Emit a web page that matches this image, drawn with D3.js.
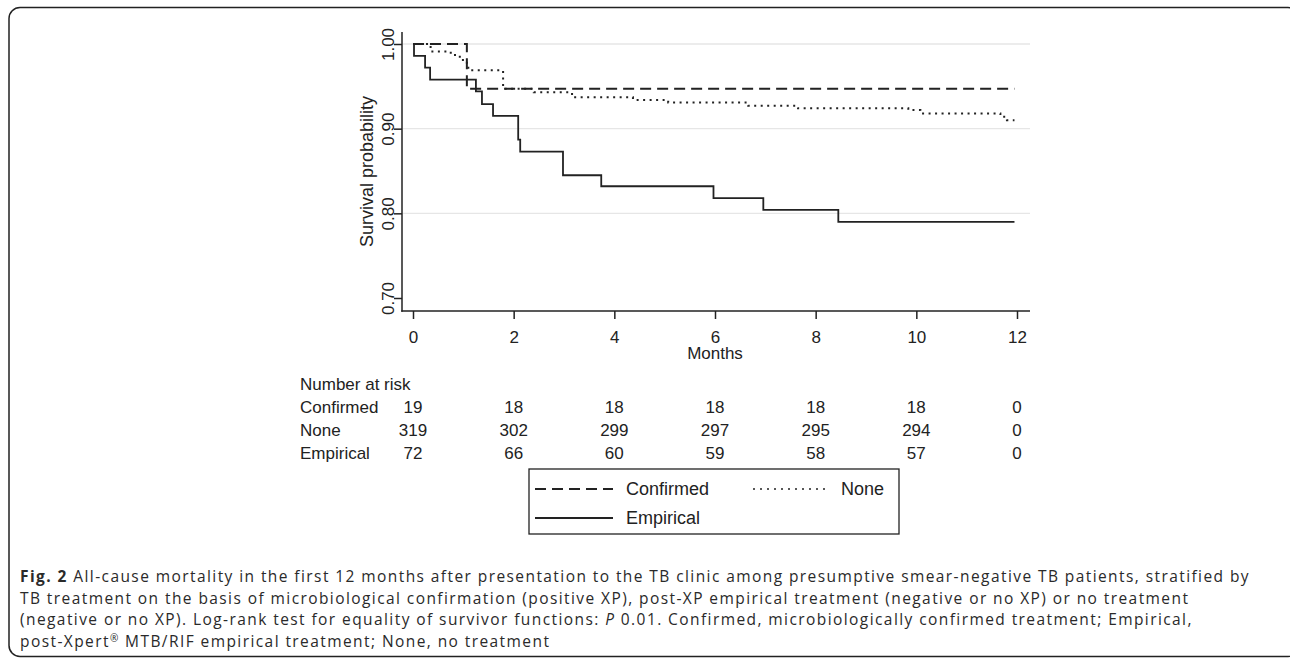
<!DOCTYPE html>
<html>
<head>
<meta charset="utf-8">
<script src="https://cdn.jsdelivr.net/npm/d3@7"></script>
<style>
    body { margin: 0; background: #fff; }
    svg { display: block; }
</style>
</head>
<body>
<div id="chart"></div>
<script>
// Kaplan-Meier survival by treatment group

const monthTicks = [0, 2, 4, 6, 8, 10, 12];
const survTicks = [0.70, 0.80, 0.90, 1.00];
const gridValues = [0.80, 0.90, 1.00];

// step points (month, survival)
const confirmedMonths = [0, 1.07, 11.95];
const confirmedSurv = [1.000, 0.947, 0.947];

const noneMonths = [0, 0.35, 0.75, 0.93, 1.07, 1.15, 1.79, 2.40, 3.16, 4.37, 5.07, 6.66, 7.65, 9.84, 10.08, 11.67, 11.80, 11.95];
const noneSurv = [1.000, 0.991, 0.987, 0.981, 0.972, 0.969, 0.947, 0.943, 0.937, 0.934, 0.931, 0.927, 0.924, 0.922, 0.918, 0.914, 0.910, 0.910];

const empiricalMonths = [0, 0.02, 0.24, 0.34, 1.25, 1.37, 1.59, 2.09, 2.13, 2.98, 3.74, 5.97, 6.96, 8.45, 11.95];
const empiricalSurv = [1.000, 0.986, 0.972, 0.958, 0.944, 0.929, 0.915, 0.887, 0.873, 0.845, 0.832, 0.818, 0.804, 0.790, 0.790];

// number at risk table
const riskGroups = ['Confirmed', 'None', 'Empirical'];
const riskConfirmed = [19, 18, 18, 18, 18, 18, 0];
const riskNone = [319, 302, 299, 297, 295, 294, 0];
const riskEmpirical = [72, 66, 60, 59, 58, 57, 0];

const captionLines = [
    [{ t: 'Fig. 2', w: 'bold' }, { t: ' All-cause mortality in the first 12 months after presentation to the TB clinic among presumptive smear-negative TB patients, stratified by' }],
    [{ t: 'TB treatment on the basis of microbiological confirmation (positive XP), post-XP empirical treatment (negative or no XP) or no treatment' }],
    [{ t: '(negative or no XP). Log-rank test for equality of survivor functions: ' }, { t: 'P', s: 'italic' }, { t: ' 0.01. Confirmed, microbiologically confirmed treatment; Empirical,' }],
    [{ t: 'post-Xpert' }, { t: '®', sup: true }, { t: ' MTB/RIF empirical treatment; None, no treatment' }]
];

const width = 1290;
const height = 660;
const ink = '#222';
const chartFont = '"Liberation Sans", Arial, sans-serif';

const svg = d3.select('#chart')
    .append('svg')
    .attr('width', width)
    .attr('height', height);

// outer frame
svg.append('rect')
    .attr('x', 9)
    .attr('y', 7.5)
    .attr('width', 1290)
    .attr('height', 649)
    .attr('rx', 11)
    .attr('fill', 'none')
    .attr('stroke', ink)
    .attr('stroke-width', 1.5);

const x = d3.scaleLinear().domain([0, 12]).range([413, 1017]);
const y = d3.scaleLinear().domain([0.70, 1.00]).range([298, 44]);

// plot region edges (Stata pads the region past the data)
const plotLeft = 402;
const plotRight = 1030;
const plotTop = 32;
const plotBottom = 311;

const g = svg.append('g')
    .style('font-family', chartFont)
    .style('fill', ink);

// grid lines
g.selectAll('.grid')
    .data(gridValues)
    .enter()
    .append('line')
    .attr('x1', plotLeft + 1)
    .attr('x2', plotRight)
    .attr('y1', d => y(d))
    .attr('y2', d => y(d))
    .attr('stroke', '#e6e6e6')
    .attr('stroke-width', 1.3);

// y axis
const yAxis = g.append('g')
    .attr('transform', `translate(${plotLeft},0)`)
    .call(d3.axisLeft(y).tickValues(survTicks).tickSize(8).tickFormat(d3.format('.2f')));
yAxis.select('.domain').remove();
yAxis.selectAll('.tick line').attr('stroke', ink).attr('stroke-width', 1.5);
yAxis.selectAll('.tick text')
    .attr('x', null).attr('dy', null)
    .attr('transform', 'translate(-8,0) rotate(-90)')
    .attr('text-anchor', 'middle')
    .style('font-size', '17px')
    .style('font-family', chartFont)
    .attr('fill', ink);
g.append('line')
    .attr('x1', plotLeft).attr('x2', plotLeft)
    .attr('y1', plotTop).attr('y2', plotBottom + 0.75)
    .attr('stroke', ink).attr('stroke-width', 1.5);

// x axis
const xAxis = g.append('g')
    .attr('transform', `translate(0,${plotBottom})`)
    .call(d3.axisBottom(x).tickValues(monthTicks).tickSize(8));
xAxis.select('.domain').remove();
xAxis.selectAll('.tick line').attr('stroke', ink).attr('stroke-width', 1.5);
xAxis.selectAll('.tick text')
    .attr('y', 32).attr('dy', null)
    .style('font-size', '17px')
    .style('font-family', chartFont)
    .attr('fill', ink);
g.append('line')
    .attr('x1', plotLeft - 0.75).attr('x2', plotRight)
    .attr('y1', plotBottom).attr('y2', plotBottom)
    .attr('stroke', ink).attr('stroke-width', 1.5);

// axis titles
g.append('text')
    .attr('transform', `translate(373,${(plotTop + plotBottom) / 2}) rotate(-90)`)
    .attr('text-anchor', 'middle')
    .style('font-size', '18px')
    .text('Survival probability');

g.append('text')
    .attr('x', (x(0) + x(12)) / 2)
    .attr('y', 359)
    .attr('text-anchor', 'middle')
    .style('font-size', '17px')
    .text('Months');

// survival curves
const series = [
    { name: 'Confirmed', months: confirmedMonths, surv: confirmedSurv, dash: '11,6', sw: 2 },
    { name: 'None', months: noneMonths, surv: noneSurv, dash: '2,4.5', sw: 2 },
    { name: 'Empirical', months: empiricalMonths, surv: empiricalSurv, dash: null, sw: 1.8 }
];

const line = d3.line()
    .x(d => x(d[0]))
    .y(d => y(d[1]))
    .curve(d3.curveStepAfter);

g.selectAll('.km')
    .data(series)
    .enter()
    .append('path')
    .attr('class', 'km')
    .attr('d', d => line(d.months.map((m, i) => [m, d.surv[i]])))
    .attr('fill', 'none')
    .attr('stroke', ink)
    .attr('stroke-width', d => d.sw)
    .attr('stroke-dasharray', d => d.dash);

// number at risk
const riskRows = [riskConfirmed, riskNone, riskEmpirical];
const table = g.append('g').style('font-size', '17px');

table.append('text')
    .attr('x', 300)
    .attr('y', 390)
    .text('Number at risk');

riskGroups.forEach((name, i) => {
    const rowY = 413 + i * 23;
    table.append('text')
        .attr('x', 300)
        .attr('y', rowY)
        .text(name);
    table.selectAll(null)
        .data(riskRows[i])
        .enter()
        .append('text')
        .attr('x', (d, j) => x(monthTicks[j]))
        .attr('y', rowY)
        .attr('text-anchor', 'middle')
        .text(d => d);
});

// legend
const legend = g.append('g').style('font-size', '18px');
legend.append('rect')
    .attr('x', 529)
    .attr('y', 469)
    .attr('width', 370)
    .attr('height', 65)
    .attr('fill', 'none')
    .attr('stroke', ink)
    .attr('stroke-width', 1.3);

const legendItems = [
    { s: series[0], lx: 535, ly: 489 },
    { s: series[1], lx: 753, ly: 489 },
    { s: series[2], lx: 535, ly: 518 }
];

legendItems.forEach(item => {
    const len = item.s.name === 'None' ? 75 : 78;
    legend.append('line')
        .attr('x1', item.lx)
        .attr('x2', item.lx + len)
        .attr('y1', item.ly)
        .attr('y2', item.ly)
        .attr('stroke', ink)
        .attr('stroke-width', item.s.name === 'None' ? 1.6 : 1.8)
        .attr('stroke-dasharray', item.s.name === 'None' ? '2,5' : item.s.dash);
    legend.append('text')
        .attr('x', item.lx + len + 13)
        .attr('y', item.ly + 6)
        .text(item.s.name);
});

// caption
const captionSize = 15.5;
const caption = svg.append('g')
    .style('font-family', '"Open Sans", "Noto Sans", sans-serif')
    .style('font-size', captionSize + 'px')
    .attr('fill', '#2a2a2a');

captionLines.forEach((parts, i) => {
    const t = caption.append('text')
        .attr('x', 20)
        .attr('y', 582 + i * 21.6);
    parts.forEach(p => {
        const span = t.append('tspan').text(p.t);
        if (p.w) span.attr('font-weight', p.w);
        if (p.s) span.attr('font-style', p.s);
        if (p.sup) span.attr('font-size', '10px').attr('dy', -5);
        else if (parts.some(q => q.sup) && p !== parts[0]) span.attr('dy', 5);
    });
});

// stretch letter spacing so the first line ends where the reference does
const firstLine = caption.select('text').node();
const measured = firstLine.getComputedTextLength();
const chars = firstLine.textContent.length;
caption.style('letter-spacing', ((1230 - measured) / chars) + 'px');
</script>
</body>
</html>
